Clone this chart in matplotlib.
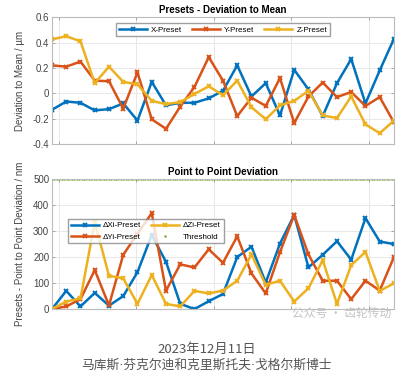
import matplotlib.pyplot as plt
import numpy as np

# deviation to mean (um), 25 presets
x_dev = [-0.13, -0.065, -0.075, -0.135, -0.125, -0.08, -0.215, 0.09, -0.095, -0.075,
         -0.075, -0.04, 0.02, 0.22, -0.025, 0.08, -0.175, 0.185, 0.03, -0.18,
         0.08, 0.27, -0.08, 0.18, 0.43]
y_dev = [0.22, 0.21, 0.25, 0.10, 0.095, -0.12, 0.165, -0.205, -0.28, -0.105,
         0.05, 0.285, 0.10, -0.18, -0.035, -0.10, 0.12, -0.235, -0.025, 0.085,
         -0.03, 0.01, -0.10, -0.03, -0.23]
z_dev = [0.425, 0.45, 0.41, 0.08, 0.21, 0.09, 0.07, -0.06, -0.085, -0.07,
         -0.005, 0.055, -0.015, 0.10, -0.11, -0.205, -0.095, -0.06, 0.02, -0.175,
         -0.195, -0.025, -0.245, -0.315, -0.215]

# point to point deviation (nm)
dx_p2p = [0, 70, 10, 62, 13, 50, 142, 285, 182, 20,
          0, 30, 58, 200, 240, 102, 252, 362, 160, 209,
          261, 190, 350, 260, 250]
dy_p2p = [0, 10, 38, 150, 14, 209, 290, 369, 71, 172,
          160, 230, 178, 280, 137, 60, 219, 362, 210, 109,
          109, 38, 109, 71, 200]
dz_p2p = [0, 29, 41, 335, 128, 118, 20, 131, 20, 10,
          70, 60, 71, 109, 210, 93, 109, 29, 80, 188,
          20, 169, 220, 70, 99]
threshold = 500

grid_x = [0.5, 5.93, 11.37, 16.8, 22.24]

c_blue = '#0072BD'
c_red = '#D95319'
c_yel = '#EDB120'
c_grn = '#77AC30'

plt.rcParams['font.family'] = ['Liberation Sans', 'DejaVu Sans']

fig = plt.figure(figsize=(4.14, 3.82), dpi=100)
ax1 = fig.add_axes([0.1256, 0.623, 0.826, 0.332])
ax2 = fig.add_axes([0.1256, 0.191, 0.826, 0.340])

idx = np.arange(len(x_dev))
kw = dict(lw=1.8, marker='x', ms=3.5, mew=1.4)
leg_kw = dict(fontsize=5.8, frameon=True, fancybox=False, edgecolor='#888888',
              handlelength=3.5, borderpad=0.35, columnspacing=1.2, handletextpad=0.5)

ax1.plot(idx, x_dev, color=c_blue, label='X-Preset', **kw)
ax1.plot(idx, y_dev, color=c_red, label='Y-Preset', **kw)
ax1.plot(idx, z_dev, color=c_yel, label='Z-Preset', **kw)
ax1.set_ylim(-0.4, 0.6)
ax1.set_yticks([-0.4, -0.2, 0, 0.2, 0.4, 0.6])
ax1.set_yticklabels(['-0.4', '-0.2', '0', '0.2', '0.4', '0.6'])
ax1.set_title('Presets - Deviation to Mean', fontsize=7, fontweight='bold', pad=3)
ax1.set_ylabel('Deviation to Mean / µm', fontsize=7, color='#444444')
ax1.legend(loc='upper center', bbox_to_anchor=(0.5, 0.985), ncol=3, **leg_kw)

ax2.plot(idx, dx_p2p, color=c_blue, label='ΔXi-Preset', **kw)
ax2.plot(idx, dy_p2p, color=c_red, label='ΔYi-Preset', **kw)
ax2.plot(idx, dz_p2p, color=c_yel, label='ΔZi-Preset', **kw)
tx = np.linspace(0, len(dx_p2p) - 1, 140)
ax2.plot(tx, np.full_like(tx, threshold), color=c_grn, ls='none', marker='.', ms=1.6,
         label='Threshold')
ax2.set_ylim(0, 500)
ax2.set_yticks([0, 100, 200, 300, 400, 500])
ax2.set_title('Point to Point Deviation', fontsize=7, fontweight='bold', pad=3)
ax2.set_ylabel('Presets - Point to Point Deviation / nm', fontsize=7, color='#444444')
ax2.legend(loc='upper left', bbox_to_anchor=(0.035, 0.725), ncol=2,
           labelspacing=0.45, **leg_kw)

for ax in (ax1, ax2):
    ax.set_xlim(0, len(x_dev) - 1)
    ax.set_xticks(grid_x)
    ax.set_xticklabels([])
    ax.grid(True, color='#e8e8e8', lw=0.7)
    ax.set_axisbelow(True)
    ax.tick_params(direction='in', length=2.5, width=0.6, colors='#999999',
                   labelcolor='#444444', labelsize=7, top=True, right=True, pad=2)
    for s in ax.spines.values():
        s.set_color('#bbbbbb')
        s.set_linewidth(0.8)
    ax.yaxis.set_label_coords(-0.079, 0.5)

# watermark
fig.text(0.825, 0.18, '公众号 · 齿轮传动', fontsize=8.5, color='#c4c4c4',
         family=['Noto Sans CJK SC', 'DejaVu Sans'], ha='center', va='center')

fig.text(0.5, 0.086, '2023年12月11日', fontsize=9.5, color='#555555',
         family=['Noto Sans CJK SC', 'DejaVu Sans'], ha='center', va='center')
fig.text(0.5, 0.044, '马库斯·芬克尔迪和克里斯托夫·戈格尔斯博士', fontsize=9.2, color='#555555',
         family=['DejaVu Sans', 'Noto Sans CJK SC'], ha='center', va='center')

fig.savefig('out.png', dpi=100)
